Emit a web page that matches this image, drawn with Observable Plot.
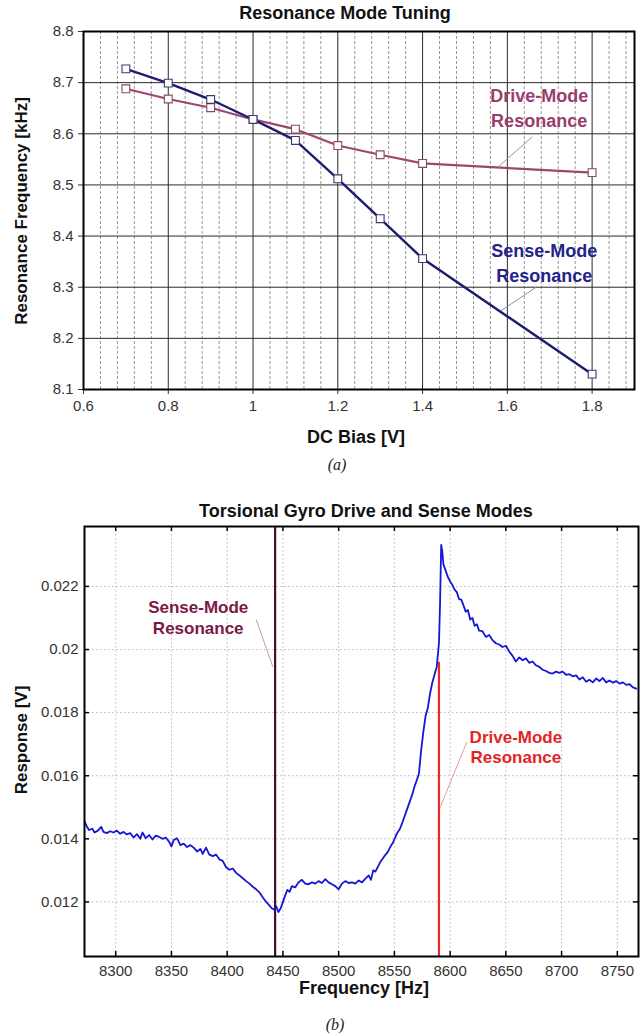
<!DOCTYPE html>
<html>
<head>
<meta charset="utf-8">
<script src="https://cdn.jsdelivr.net/npm/d3@7"></script>
<script src="https://cdn.jsdelivr.net/npm/@observablehq/plot@0.6"></script>
<style>
  html, body { margin: 0; padding: 0; background: #fff; }
  #page { position: relative; width: 641px; height: 1035px; overflow: hidden; font-family: "Liberation Sans", Arial, sans-serif; }
  .abs { position: absolute; white-space: nowrap; transform: translate(-50%, -50%); }
  .title, .xlab, .ylab { font-weight: bold; font-size: 18px; color: #111; }
  .ylab { font-size: 17px; transform: translate(-50%, -50%) rotate(-90deg); }
  .cap { font-family: "Liberation Serif", serif; font-style: italic; font-size: 16px; color: #222; }
  svg { position: absolute; left: 0; }
</style>
</head>
<body>
<div id="page">
  <div class="abs title" style="left:345px; top:13px;">Resonance Mode Tuning</div>
  <div class="abs ylab" style="left:22px; top:211px;">Resonance Frequency [kHz]</div>
  <div class="abs xlab" style="left:356px; top:437px;">DC Bias [V]</div>
  <div class="abs cap" style="left:337px; top:465px;">(<i>a</i>)</div>

  <div class="abs title" style="left:366px; top:511px;">Torsional Gyro Drive and Sense Modes</div>
  <div class="abs ylab" style="left:22px; top:740px;">Response [V]</div>
  <div class="abs xlab" style="left:364px; top:988px;">Frequency [Hz]</div>
  <div class="abs cap" style="left:335px; top:1025px;">(<i>b</i>)</div>
</div>
<script>
// ---- (a) resonance mode tuning versus DC bias ----
const biasV = [0.7, 0.8, 0.9, 1.0, 1.1, 1.2, 1.3, 1.4, 1.8];
const senseKHz = [8.727, 8.699, 8.667, 8.628, 8.587, 8.512, 8.434, 8.356, 8.130];
const driveKHz = [8.688, 8.668, 8.651, 8.628, 8.609, 8.577, 8.559, 8.542, 8.524];
const biasTicks = [0.6, 0.8, 1.0, 1.2, 1.4, 1.6, 1.8];
const kHzTicks = [8.1, 8.2, 8.3, 8.4, 8.5, 8.6, 8.7, 8.8];

// callout labels and their leader lines (data units)
const tuneLabels = [
  {x: 1.675, y: 8.674, text: "Drive-Mode", color: "#9a3d6c"},
  {x: 1.675, y: 8.625, text: "Resonance", color: "#9a3d6c"},
  {x: 1.687, y: 8.371, text: "Sense-Mode", color: "#23238a"},
  {x: 1.687, y: 8.322, text: "Resonance", color: "#23238a"}
];
const tuneLeaders = [
  {x1: 1.659, y1: 8.594, x2: 1.578, y2: 8.535, color: "#b58a9c"},
  {x1: 1.668, y1: 8.300, x2: 1.585, y2: 8.254, color: "#8a8aa8"}
];

// ---- (b) measured frequency response ----
const freqHz = [8272,8274,8276,8279,8281,8284,8287,8289,8292,8295,8298,8301,8304,8307,8310,8313,8316,8319,8322,8324,
  8327,8330,8333,8336,8339,8342,8345,8348,8350,8352,8355,8358,8361,8364,8367,8370,8373,8376,8378,8381,
  8384,8387,8390,8393,8396,8399,8402,8405,8408,8411,8414,8417,8420,8423,8426,8429,8432,8435,8438,8440,
  8442,8444,8446,8448,8450,8452,8454,8456,8458,8461,8464,8467,8470,8473,8476,8479,8482,8485,8488,8491,
  8494,8497,8500,8503,8506,8509,8512,8515,8518,8521,8524,8527,8529,8531,8533,8535,8538,8541,8544,8546,
  8549,8552,8555,8557,8560,8563,8566,8568,8570,8572,8574,8576,8578,8580,8582,8584,8586,8588,8590,8591,
  8592,8593,8594,8596,8598,8600,8602,8604,8606,8608,8610,8612,8614,8616,8618,8620,8622,8624,8626,8629,
  8632,8635,8638,8641,8644,8647,8650,8653,8656,8659,8662,8665,8668,8671,8674,8677,8680,8683,8686,8689,
  8692,8695,8698,8701,8704,8707,8710,8713,8716,8719,8722,8725,8728,8731,8734,8737,8740,8743,8746,8749,
  8752,8755,8758,8761,8764,8767];
const responseV = [0.01455,0.01440,0.01428,0.01432,0.01420,0.01426,0.01438,0.01422,0.01418,0.01424,0.01420,0.01426,0.01416,0.01422,0.01414,0.01418,0.01404,0.01415,0.01400,0.01420,
  0.01402,0.01412,0.01398,0.01410,0.01406,0.01400,0.01404,0.01390,0.01376,0.01396,0.01402,0.01380,0.01385,0.01374,0.01380,0.01372,0.01360,0.01368,0.01352,0.01372,
  0.01350,0.01345,0.01350,0.01335,0.01330,0.01310,0.01302,0.01306,0.01292,0.01284,0.01275,0.01266,0.01258,0.01248,0.01240,0.01230,0.01214,0.01200,0.01188,0.01180,
  0.01176,0.01186,0.01168,0.01180,0.01200,0.01220,0.01238,0.01232,0.01250,0.01246,0.01262,0.01270,0.01258,0.01256,0.01262,0.01258,0.01266,0.01260,0.01272,0.01262,
  0.01256,0.01250,0.01240,0.01258,0.01266,0.01260,0.01262,0.01258,0.01268,0.01262,0.01274,0.01284,0.01270,0.01300,0.01296,0.01310,0.01330,0.01345,0.01358,0.01372,
  0.01390,0.01415,0.01432,0.01450,0.01480,0.01510,0.01540,0.01565,0.01585,0.01606,0.01680,0.01740,0.01790,0.01815,0.01860,0.01895,0.01920,0.01945,0.02020,0.02150,
  0.02332,0.02310,0.02270,0.02250,0.02230,0.02216,0.02205,0.02190,0.02182,0.02160,0.02158,0.02140,0.02120,0.02125,0.02095,0.02100,0.02075,0.02080,0.02060,0.02058,
  0.02040,0.02046,0.02030,0.02020,0.02016,0.02008,0.02012,0.01994,0.01980,0.01962,0.01975,0.01966,0.01972,0.01958,0.01962,0.01950,0.01945,0.01936,0.01932,0.01926,
  0.01924,0.01930,0.01926,0.01930,0.01920,0.01922,0.01915,0.01918,0.01905,0.01912,0.01898,0.01904,0.01896,0.01908,0.01900,0.01910,0.01896,0.01902,0.01895,0.01900,
  0.01892,0.01896,0.01888,0.01890,0.01880,0.01876];
const hzTicks = [8300, 8350, 8400, 8450, 8500, 8550, 8600, 8650, 8700, 8750];
const voltTicks = [0.012, 0.014, 0.016, 0.018, 0.02, 0.022];
const senseResHz = 8443;
const driveResHz = 8590;
const driveResMarkTop = 0.0196;

const gyroLabels = [
  {x: 8374, y: 0.02132, text: "Sense-Mode", color: "#7a1848"},
  {x: 8374, y: 0.02068, text: "Resonance", color: "#7a1848"},
  {x: 8659, y: 0.01722, text: "Drive-Mode", color: "#e42424"},
  {x: 8659, y: 0.01659, text: "Resonance", color: "#e42424"}
];
const gyroLeaders = [
  {x1: 8426, y1: 0.02095, x2: 8441, y2: 0.01945, color: "#c49aa8"},
  {x1: 8615, y1: 0.01707, x2: 8591, y2: 0.01499, color: "#e89a9a"}
];

const trim = d => String(+d.toFixed(3));
const page = document.getElementById("page");

// chart (a)
{
  const rows = biasV.map((b, i) => ({b, sense: senseKHz[i], drive: driveKHz[i]}));
  const minor = d3.range(0.64, 1.9, 0.04).map(v => +v.toFixed(2))
    .filter(v => !biasTicks.some(t => Math.abs(t - v) < 1e-6));
  const W = 641, H = 450;
  const chart = Plot.plot({
    width: W, height: H,
    marginLeft: 83, marginRight: 7, marginTop: 31, marginBottom: 61,
    style: {fontFamily: "Liberation Sans, Arial, sans-serif", fontSize: "15px", color: "#333", background: "transparent"},
    x: {domain: [0.6, 1.9], ticks: biasTicks, tickFormat: trim, tickSize: 5, tickPadding: 6, label: null},
    y: {domain: [8.1, 8.8], ticks: kHzTicks, tickFormat: trim, tickSize: 5, tickPadding: 5, label: null},
    marks: [
      Plot.ruleX(minor, {stroke: "#8a8a8a", strokeDasharray: "3,2", strokeWidth: 0.9}),
      Plot.ruleX(biasTicks, {stroke: "#2a2a2a", strokeWidth: 1}),
      Plot.ruleY(kHzTicks, {stroke: "#2a2a2a", strokeWidth: 1}),
      Plot.line(rows, {x: "b", y: "drive", stroke: "#9c4670", strokeWidth: 2.2}),
      Plot.line(rows, {x: "b", y: "sense", stroke: "#1c1c70", strokeWidth: 2.4}),
      Plot.dot(rows, {x: "b", y: "drive", symbol: "square", r: 4.4, fill: "#fff", stroke: "#8a4a66", strokeWidth: 1.1}),
      Plot.dot(rows, {x: "b", y: "sense", symbol: "square", r: 4.4, fill: "#fff", stroke: "#3a3a70", strokeWidth: 1.1}),
      Plot.link(tuneLeaders, {x1: "x1", y1: "y1", x2: "x2", y2: "y2", stroke: "color", strokeWidth: 1}),
      Plot.text(tuneLabels, {x: "x", y: "y", text: "text", fill: "color", fontSize: 18, fontWeight: "bold"}),
      Plot.frame({stroke: "#000", strokeWidth: 2})
    ]
  });
  chart.style.top = "0px";
  page.appendChild(chart);
}

// chart (b)
{
  const rows = freqHz.map((f, i) => ({f, v: responseV[i]}));
  const W = 641, H = 500, mt = 30, mb = 40;
  const inner = H - mt - mb, tick = 5;
  const yDom = [0.01027, 0.0239];
  const chart = Plot.plot({
    width: W, height: H,
    marginLeft: 84, marginRight: 3, marginTop: mt, marginBottom: mb,
    style: {fontFamily: "Liberation Sans, Arial, sans-serif", fontSize: "15px", color: "#333", background: "transparent"},
    x: {domain: [8272, 8769], ticks: hzTicks, tickFormat: d => String(d), tickSize: 0, tickPadding: 9, label: null},
    y: {domain: yDom, ticks: voltTicks, tickFormat: trim, tickSize: 0, tickPadding: 6, label: null},
    marks: [
      Plot.ruleX(hzTicks, {stroke: "#b8b8b8", strokeDasharray: "1.5,2.5", strokeWidth: 1}),
      Plot.ruleY(voltTicks, {stroke: "#b8b8b8", strokeDasharray: "1.5,2.5", strokeWidth: 1}),
      // inward tick marks on all four sides
      Plot.ruleX(hzTicks, {stroke: "#000", strokeWidth: 1.5, insetBottom: inner - tick}),
      Plot.ruleX(hzTicks, {stroke: "#000", strokeWidth: 1.5, insetTop: inner - tick}),
      Plot.ruleY(voltTicks, {stroke: "#000", strokeWidth: 1.5, insetRight: (W - 84 - 3) - tick}),
      Plot.ruleY(voltTicks, {stroke: "#000", strokeWidth: 1.5, insetLeft: (W - 84 - 3) - tick}),
      Plot.ruleX([senseResHz], {stroke: "#4a0c2c", strokeWidth: 2.2}),
      Plot.line(rows, {x: "f", y: "v", stroke: "#1616d4", strokeWidth: 1.8}),
      Plot.ruleX([driveResHz], {y1: yDom[0], y2: driveResMarkTop, stroke: "#ea2a2a", strokeWidth: 2.2}),
      Plot.link(gyroLeaders, {x1: "x1", y1: "y1", x2: "x2", y2: "y2", stroke: "color", strokeWidth: 1}),
      Plot.text(gyroLabels, {x: "x", y: "y", text: "text", fill: "color", fontSize: 17, fontWeight: "bold"}),
      Plot.frame({stroke: "#000", strokeWidth: 2})
    ]
  });
  chart.style.top = "496px";
  page.appendChild(chart);
}
</script>
</body>
</html>
